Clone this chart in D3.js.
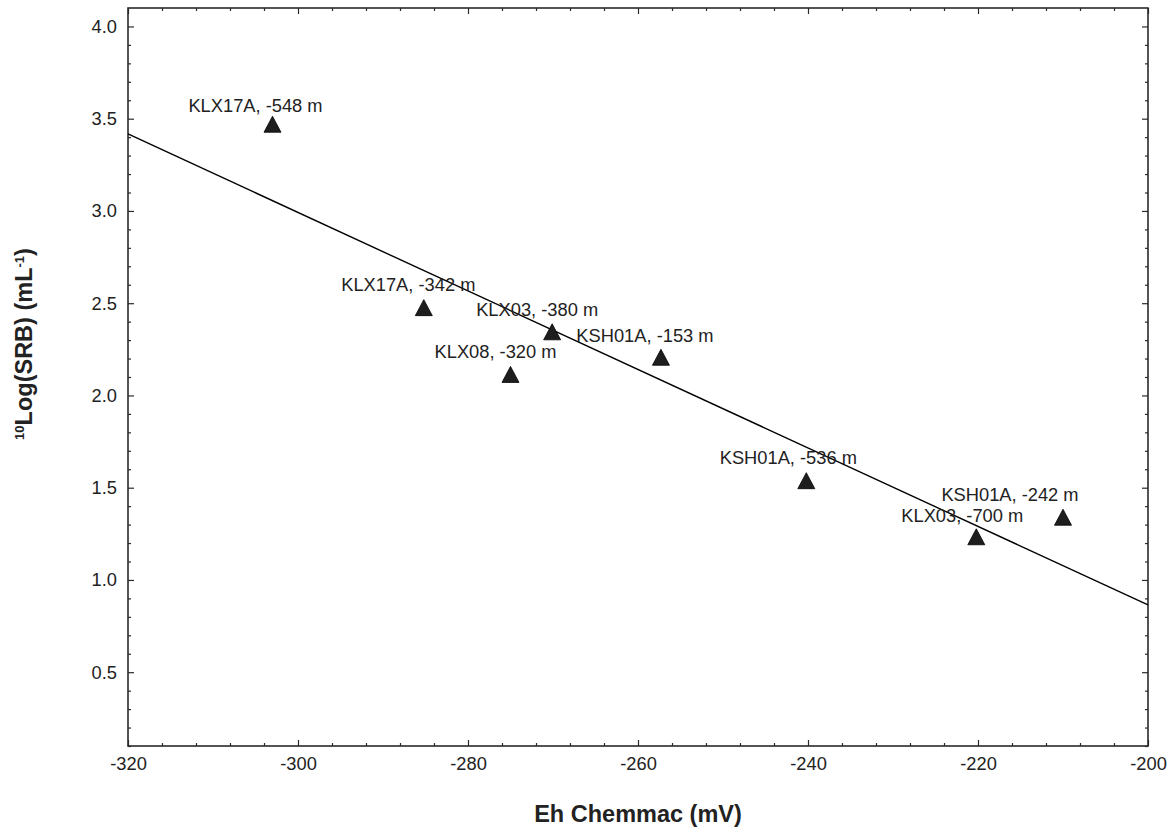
<!DOCTYPE html>
<html>
<head>
<meta charset="utf-8">
<script src="https://cdn.jsdelivr.net/npm/d3@7"></script>
<style>
    body { margin: 0; background: #fff; }
    .font { font-family: "Liberation Sans", Arial, sans-serif; fill: #222; }
    .tick-label { font-size: 18.3px; }
    .axis-title { font-size: 23.5px; font-weight: bold; }
    .point-label { font-size: 18.3px; }
</style>
</head>
<body>
<svg id="chart" width="1170" height="830"></svg>
<script>
// values
const WELL_LABELS = ["KLX17A, -548 m", "KLX17A, -342 m", "KLX03, -380 m", "KLX08, -320 m",
                     "KSH01A, -153 m", "KSH01A, -536 m", "KSH01A, -242 m", "KLX03, -700 m"];
const EH_VALUES = [-303, -285.2, -270.1, -275, -257.3, -240.2, -210, -220.2];
const LOG_SRB_VALUES = [3.47, 2.476, 2.345, 2.114, 2.207, 1.538, 1.34, 1.234];
const X_TICKS = [-320, -300, -280, -260, -240, -220, -200];
const Y_TICKS = [0.5, 1.0, 1.5, 2.0, 2.5, 3.0, 3.5, 4.0];
const X_DOMAIN = [-320, -200];
const Y_DOMAIN = [0.1, 4.1];

// label placement relative to its marker, in pixels (hand placed in the original)
const LABEL_DX = [-17, -15.5, -15, -15, -16, -18, -53, -14];
const LABEL_DY = [-12, -17, -15.5, -16, -15, -17, -16, -15];

const PLOT_LEFT = 128;
const PLOT_RIGHT = 1148;
const PLOT_TOP = 8;
const PLOT_BOTTOM = 746;
const MAJOR_TICK = 6;
const MINOR_TICK = 3;
const AXIS_COLOR = "#2a2a2a";

var svg = d3.select("#chart");

var xScale = d3.scaleLinear().domain(X_DOMAIN).range([PLOT_LEFT, PLOT_RIGHT]);
var yScale = d3.scaleLinear().domain(Y_DOMAIN).range([PLOT_BOTTOM, PLOT_TOP]);

var xMinor = d3.range(X_DOMAIN[0], X_DOMAIN[1] + 0.01, 4)
    .filter(function(v) { return X_TICKS.indexOf(v) < 0; });
var yMinor = d3.range(1, 41).map(function(i) { return i / 10; })
    .filter(function(v) { return Y_TICKS.indexOf(v) < 0; });

function styleAxis(g) {
    g.select(".domain").remove();
    g.selectAll("line").attr("stroke", AXIS_COLOR).attr("stroke-width", 1.2);
    g.selectAll("text").attr("class", "font tick-label").attr("fill", "#222");
}

function drawAxis(axisFn, scale, ticks, minor, transform, showLabels, fmt) {
    var major = svg.append("g")
        .attr("transform", transform)
        .call(axisFn(scale).tickValues(ticks).tickSize(-MAJOR_TICK).tickPadding(11)
            .tickFormat(showLabels ? fmt : ""));
    styleAxis(major);
    var minorG = svg.append("g")
        .attr("transform", transform)
        .call(axisFn(scale).tickValues(minor).tickSize(-MINOR_TICK).tickFormat(""));
    styleAxis(minorG);
    return major;
}

// plain hyphen minus, as in the original
var xFormat = function(d) { return String(d); };
var yFormat = function(d) { return d.toFixed(1); };

drawAxis(d3.axisBottom, xScale, X_TICKS, xMinor, "translate(0," + PLOT_BOTTOM + ")", true, xFormat);
drawAxis(d3.axisTop, xScale, X_TICKS, xMinor, "translate(0," + PLOT_TOP + ")", false);
drawAxis(d3.axisLeft, yScale, Y_TICKS, yMinor, "translate(" + PLOT_LEFT + ",0)", true, yFormat);
drawAxis(d3.axisRight, yScale, Y_TICKS, yMinor, "translate(" + PLOT_RIGHT + ",0)", false);

// frame
svg.append("rect")
    .attr("x", PLOT_LEFT)
    .attr("y", PLOT_TOP)
    .attr("width", PLOT_RIGHT - PLOT_LEFT)
    .attr("height", PLOT_BOTTOM - PLOT_TOP)
    .attr("fill", "none")
    .attr("stroke", AXIS_COLOR)
    .attr("stroke-width", 1.6);

// least squares line through the points
var meanX = d3.mean(EH_VALUES);
var meanY = d3.mean(LOG_SRB_VALUES);
var sxy = d3.sum(EH_VALUES, function(x, i) { return (x - meanX) * (LOG_SRB_VALUES[i] - meanY); });
var sxx = d3.sum(EH_VALUES, function(x) { return (x - meanX) * (x - meanX); });
var slope = sxy / sxx;
var intercept = meanY - slope * meanX;

svg.append("line")
    .attr("x1", xScale(X_DOMAIN[0]))
    .attr("y1", yScale(intercept + slope * X_DOMAIN[0]))
    .attr("x2", xScale(X_DOMAIN[1]))
    .attr("y2", yScale(intercept + slope * X_DOMAIN[1]))
    .attr("stroke", "#000")
    .attr("stroke-width", 1.4);

// markers
const TRI_W = 17;
const TRI_H = 16;
var triPath = "M" + (-TRI_W / 2) + "," + (TRI_H / 2) + "L0," + (-TRI_H / 2) + "L" + (TRI_W / 2) + "," + (TRI_H / 2) + "Z";

svg.append("g")
    .selectAll("path")
    .data(EH_VALUES)
    .enter()
    .append("path")
    .attr("d", triPath)
    .attr("transform", function(d, i) {
        return "translate(" + xScale(d) + "," + yScale(LOG_SRB_VALUES[i]) + ")";
    })
    .attr("fill", "#1e1e1e")
    .attr("stroke", "#000")
    .attr("stroke-width", 0.8);

svg.append("g")
    .selectAll("text")
    .data(WELL_LABELS)
    .enter()
    .append("text")
    .attr("class", "font point-label")
    .attr("text-anchor", "middle")
    .attr("x", function(d, i) { return xScale(EH_VALUES[i]) + LABEL_DX[i]; })
    .attr("y", function(d, i) { return yScale(LOG_SRB_VALUES[i]) + LABEL_DY[i]; })
    .text(function(d) { return d; });

// axis titles
svg.append("text")
    .attr("class", "font axis-title")
    .attr("text-anchor", "middle")
    .attr("x", (PLOT_LEFT + PLOT_RIGHT) / 2)
    .attr("y", 822)
    .text("Eh Chemmac (mV)");

var yTitle = svg.append("text")
    .attr("class", "font axis-title")
    .attr("text-anchor", "middle")
    .attr("transform", "translate(32,344) rotate(-90)");
yTitle.append("tspan").attr("font-size", "13px").attr("dy", "-8").text("10");
yTitle.append("tspan").attr("dy", "8").text("Log(SRB) (mL");
yTitle.append("tspan").attr("font-size", "13px").attr("dy", "-8").text("-1");
yTitle.append("tspan").attr("dy", "8").text(")");
</script>
</body>
</html>
